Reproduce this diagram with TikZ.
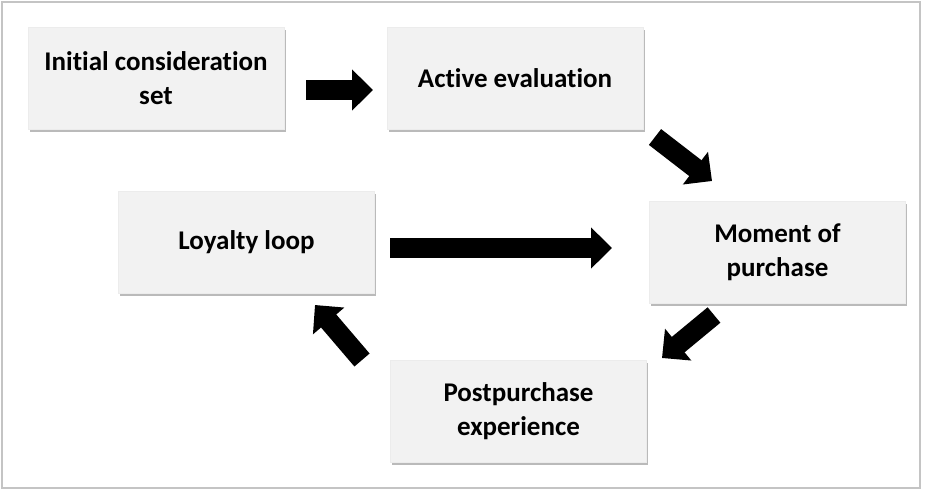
\documentclass[tikz,border=0pt]{standalone}
\usepackage{fontspec}
\setmainfont{Carlito}[Ligatures=NoCommon]
\usetikzlibrary{arrows.meta,shadows}
\definecolor{boxfill}{HTML}{F2F2F2}
\definecolor{framegray}{HTML}{C4C4C4}
\tikzset{
  stagebox/.style={fill=boxfill, draw=boxfill!95!gray, line width=0.4pt,
    minimum width=256pt, minimum height=102pt, inner sep=0pt, align=center,
    font=\fontsize{27}{34}\selectfont\bfseries,
    drop shadow={shadow xshift=1.5pt, shadow yshift=-2.5pt, opacity=0.45, fill=black!60}},
  blockarrow/.style={line width=20pt, draw=black,
    -{Triangle[length=21pt, width=40pt]}}
}
\begin{document}
\begin{tikzpicture}[x=1pt,y=-1pt]
\useasboundingbox (0,0) rectangle (925,493);
\draw[framegray, line width=1.5pt] (2,2) rectangle (920,488);

\node[stagebox] (init) at (156,78.5) {Initial consideration\\set};
\node[stagebox] (active) at (515,78.5) {Active evaluation};
\node[stagebox] (moment) at (777.5,252.5) {Moment of\\purchase};
\node[stagebox] (loyal) at (246.5,242.5) {Loyalty loop};
\node[stagebox] (post) at (518.5,411) {Postpurchase\\experience};

\coordinate (a1t) at (306,90);   \coordinate (a1h) at (373,90);
\coordinate (a2t) at (655,137);  \coordinate (a2h) at (712,181);
\coordinate (a3t) at (390,248);  \coordinate (a3h) at (612,248);
\coordinate (a4t) at (714,315);  \coordinate (a4h) at (662,358);
\coordinate (a5t) at (362,360);  \coordinate (a5h) at (315,305);

\draw[blockarrow] (a1t) -- (a1h);
\draw[blockarrow] (a2t) -- (a2h);
\draw[blockarrow] (a3t) -- (a3h);
\draw[blockarrow] (a4t) -- (a4h);
\draw[blockarrow] (a5t) -- (a5h);
\end{tikzpicture}
\end{document}
